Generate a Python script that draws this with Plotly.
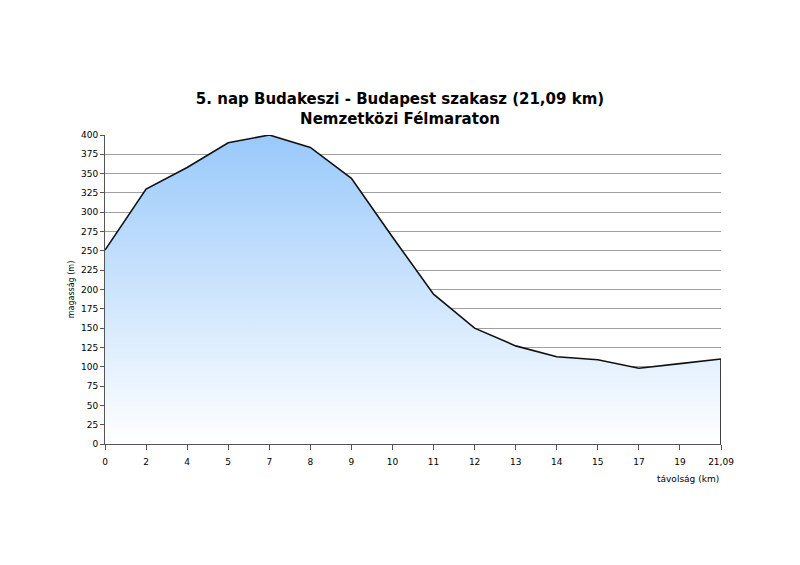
import plotly.graph_objects as go

distances = ["0", "2", "4", "5", "7", "8", "9", "10", "11", "12", "13", "14", "15", "17", "19", "21,09"]
elevation = [251, 330, 358, 390, 400, 384, 344, 268, 194, 150, 127, 113, 109, 98, 104, 110]
y_ticks = list(range(0, 401, 25))

title_line1 = "5. nap Budakeszi - Budapest szakasz (21,09 km)"
title_line2 = "Nemzetközi Félmaraton"

fig = go.Figure()
fig.add_trace(go.Scatter(
    x=distances, y=elevation, mode="lines",
    line=dict(color="#111111", width=1.6),
    fill="tozeroy",
    fillgradient=dict(type="vertical",
                      colorscale=[[0, "#ffffff"], [1, "#99c9fb"]]),
    hoverinfo="skip", showlegend=False,
))
fig.add_trace(go.Scatter(
    x=[distances[-1], distances[-1]], y=[elevation[-1], 0], mode="lines",
    line=dict(color="#111111", width=1.6), showlegend=False, hoverinfo="skip",
))

font_family = "DejaVu Sans, Verdana, sans-serif"
fig.update_layout(
    width=800, height=565,
    margin=dict(l=105, r=79, t=135, b=121),
    paper_bgcolor="white", plot_bgcolor="white",
    font=dict(family=font_family, color="#000000"),
    title=dict(
        text=f"<b>{title_line1}</b><br><b>{title_line2}</b>",
        x=0.5, xref="container", xanchor="center",
        y=1 - 104 / 565, yref="container", yanchor="middle",
        font=dict(size=15, family=font_family, color="#000000"),
    ),
    xaxis=dict(
        type="category", range=[0, len(distances) - 1],
        showgrid=False, showline=True, linecolor="#555555", linewidth=1,
        ticks="outside", ticklen=5, tickcolor="#555555",
        tickfont=dict(size=9), zeroline=False, ticklabelstandoff=4,
    ),
    yaxis=dict(
        range=[0, 400], tickvals=y_ticks,
        showgrid=True, gridcolor="#a0a0a0", gridwidth=1,
        showline=True, linecolor="#555555", linewidth=1,
        ticks="outside", ticklen=4, tickcolor="#555555",
        tickfont=dict(size=9), zeroline=False,
        title=dict(text="magasság (m)", font=dict(size=8, color="#000000"), standoff=5),
    ),
    annotations=[dict(
        text="távolság (km)", xref="paper", yref="paper",
        x=1, y=-35 / 309, xanchor="right", yanchor="middle",
        showarrow=False, font=dict(size=9, color="#000000"),
    )],
)

fig.write_html("out.html")
